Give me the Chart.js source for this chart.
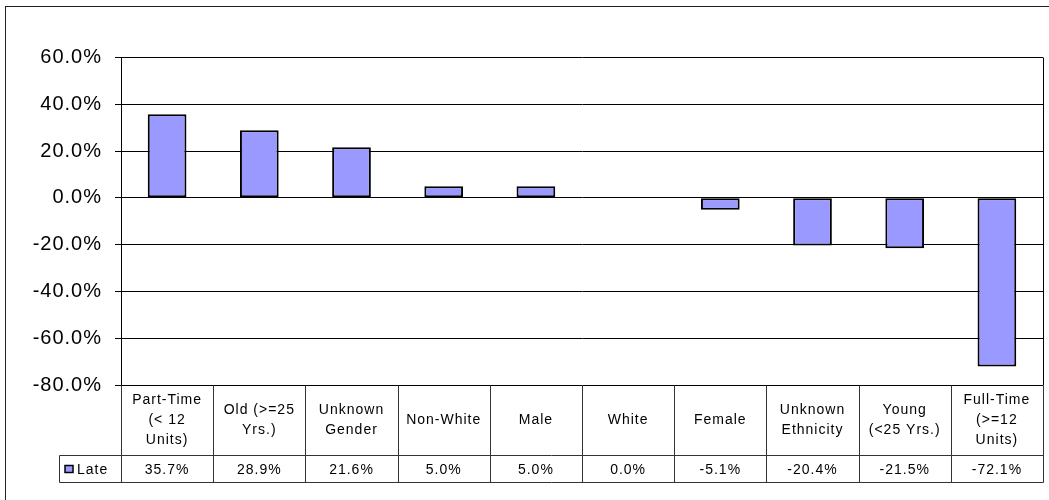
<!DOCTYPE html>
<html>
<head>
<meta charset="utf-8">
<script src="https://cdn.jsdelivr.net/npm/chart.js@4.4.0/dist/chart.umd.min.js"></script>
<style>
  body { margin: 0; background: #fff; }
  #wrap { width: 1049px; height: 500px; position: relative; }
</style>
</head>
<body>
<div id="wrap"><canvas id="myChart"></canvas></div>
<script>
// categories (each label split in lines as in the data table)
const categorias = [
  ["Part-Time", "(< 12", "Units)"],
  ["Old (>=25", "Yrs.)"],
  ["Unknown", "Gender"],
  ["Non-White"],
  ["Male"],
  ["White"],
  ["Female"],
  ["Unknown", "Ethnicity"],
  ["Young", "(<25 Yrs.)"],
  ["Full-Time", "(>=12", "Units)"]
];
const serieNombre = "Late";
const valoresLate = [35.7, 28.9, 21.6, 5.0, 5.0, 0.0, -5.1, -20.4, -21.5, -72.1];
const ticksY = [-80, -60, -40, -20, 0, 20, 40, 60];

const fuente = '"Liberation Sans", Arial, sans-serif';
const colorBarra = "#9999FF";

// tabla de datos + marco, dibujados con las posiciones de la escala x
const tablaPlugin = {
  id: "tabla",
  beforeDraw(chart) {
    const ctx = chart.ctx;
    ctx.letterSpacing = "1px";
    ctx.save();
    ctx.strokeStyle = "#222";
    ctx.lineWidth = 1;
    ctx.strokeRect(5.5, 6.5, 1200, 700);
    ctx.restore();
  },
  afterDraw(chart) {
    const ctx = chart.ctx;
    const x = chart.scales.x;
    const area = chart.chartArea;
    const top = Math.round(area.bottom) + 0.5;
    const medio = top + 70;
    const abajo = medio + 27;
    const izq = 59.5;
    const der = Math.round(area.right) + 0.5;
    const ancho = (area.right - area.left) / categorias.length;

    ctx.save();
    ctx.letterSpacing = "1px";
    // borde derecho del area del grafico
    ctx.strokeStyle = "#000";
    ctx.lineWidth = 1;
    ctx.beginPath();
    ctx.moveTo(der, area.top);
    ctx.lineTo(der, top);
    ctx.stroke();

    // lineas de la tabla
    ctx.strokeStyle = "#333";
    ctx.beginPath();
    ctx.moveTo(Math.round(area.left) + 0.5, top);
    ctx.lineTo(Math.round(area.left) + 0.5, abajo);
    for (let i = 0; i < categorias.length; i++) {
      const xr = Math.round(x.getPixelForValue(i) + ancho / 2) + 0.5;
      ctx.moveTo(xr, top);
      ctx.lineTo(xr, abajo);
    }
    ctx.moveTo(izq, medio);
    ctx.lineTo(der, medio);
    ctx.moveTo(izq, abajo);
    ctx.lineTo(der, abajo);
    ctx.moveTo(izq, medio);
    ctx.lineTo(izq, abajo);
    ctx.stroke();

    // textos
    ctx.fillStyle = "#000";
    ctx.font = "14px " + fuente;
    ctx.textAlign = "center";
    ctx.textBaseline = "middle";
    categorias.forEach((lineas, i) => {
      const cx = x.getPixelForValue(i);
      const alto = 20;
      const y0 = (top + medio) / 2 - ((lineas.length - 1) * alto) / 2;
      lineas.forEach((l, j) => ctx.fillText(l, cx, y0 + j * alto));
      ctx.fillText(valoresLate[i].toFixed(1) + "%", cx, (medio + abajo) / 2 + 1);
    });

    // leyenda
    const yc = (medio + abajo) / 2;
    ctx.fillStyle = colorBarra;
    ctx.fillRect(65, yc - 3.5, 8, 7);
    ctx.strokeStyle = "#000";
    ctx.lineWidth = 1.5;
    ctx.strokeRect(65, yc - 3.5, 8, 7);
    ctx.fillStyle = "#000";
    ctx.textAlign = "left";
    ctx.fillText(serieNombre, 77, yc + 1);
    ctx.restore();
  }
};

const ctx = document.getElementById("myChart").getContext("2d");
const myChart = new Chart(ctx, {
  type: "bar",
  data: {
    labels: categorias.map((c) => c.join(" ")),
    datasets: [
      {
        label: serieNombre,
        data: valoresLate,
        backgroundColor: colorBarra,
        borderColor: "#000",
        borderWidth: 2,
        borderSkipped: false,
        barPercentage: 0.5,
        categoryPercentage: 0.84
      }
    ]
  },
  options: {
    responsive: true,
    maintainAspectRatio: false,
    animation: false,
    devicePixelRatio: 1,
    layout: {
      padding: { top: 57.5, right: 6, bottom: 115, left: 0 }
    },
    plugins: {
      legend: { display: false },
      tooltip: { enabled: false }
    },
    scales: {
      x: {
        display: false
      },
      y: {
        min: -80,
        max: 60,
        afterFit(scale) {
          scale.width = 121;
        },
        afterBuildTicks(scale) {
          scale.ticks = ticksY.map((v) => ({ value: v }));
        },
        ticks: {
          padding: 13,
          color: "#000",
          font: { family: fuente, size: 20 },
          callback: (v) => Number(v).toFixed(1) + "%"
        },
        grid: {
          color: "#000",
          lineWidth: 1,
          tickLength: 6,
          tickColor: "#000"
        },
        border: { color: "#000", width: 1 }
      }
    }
  },
  plugins: [tablaPlugin]
});
</script>
</body>
</html>
